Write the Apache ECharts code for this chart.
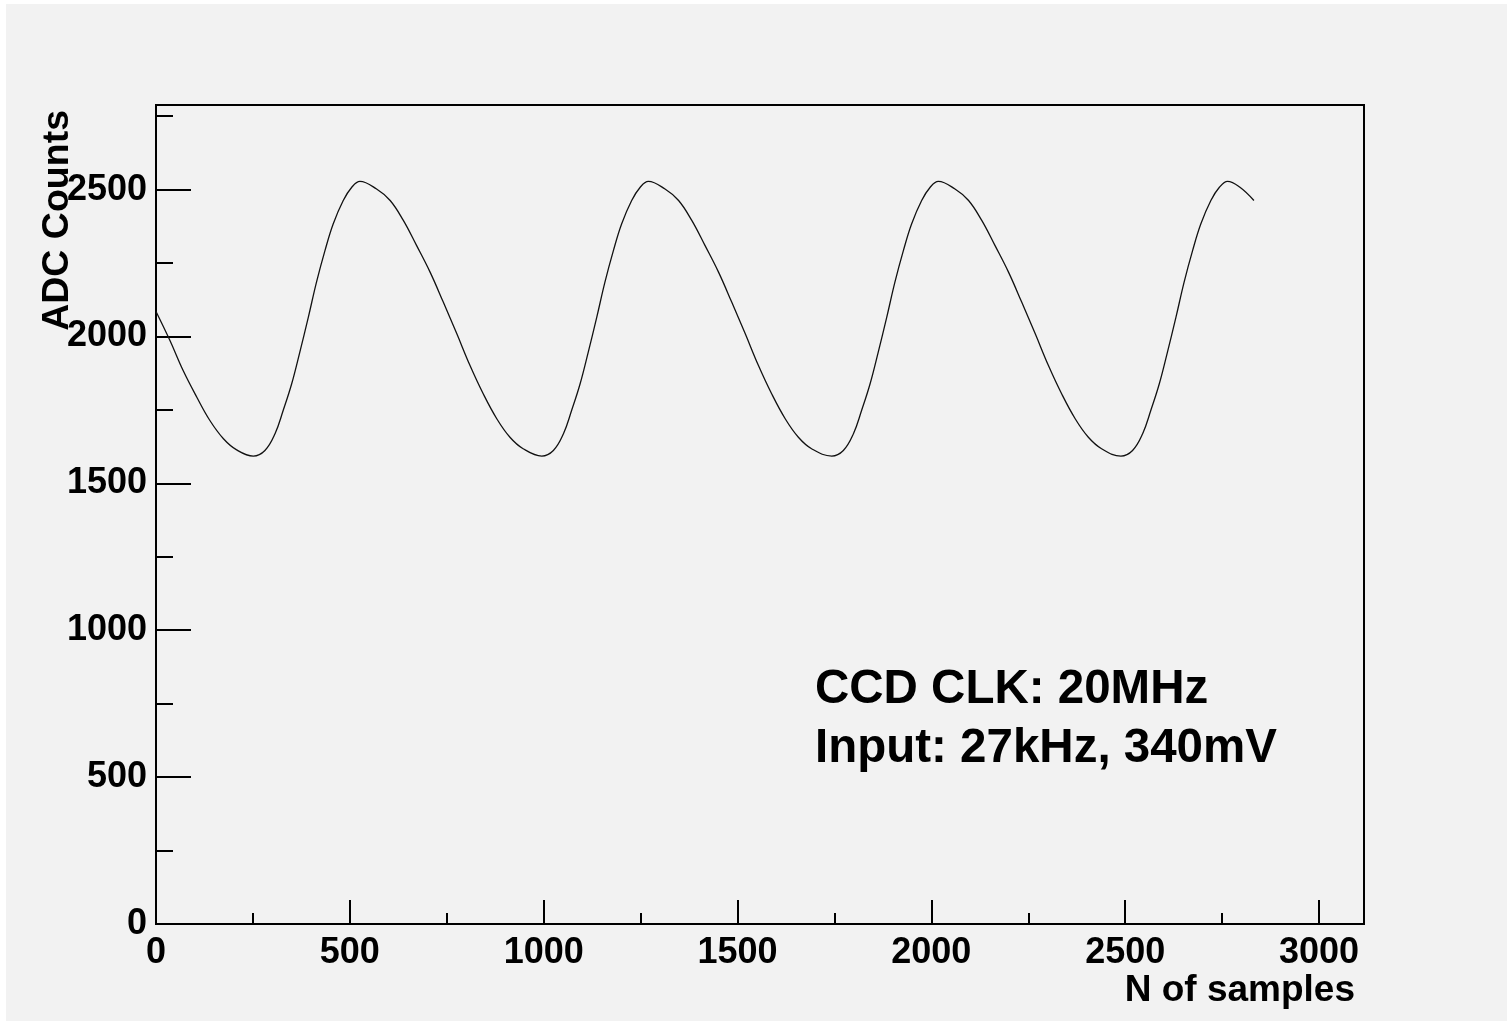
<!DOCTYPE html>
<html>
<head>
<meta charset="utf-8">
<script src="https://cdn.jsdelivr.net/npm/echarts@6/dist/echarts.min.js"></script>
<style>
html,body{margin:0;padding:0;background:#ffffff;}
#chart{position:absolute;left:0;top:0;width:1507px;height:1021px;}
</style>
</head>
<body>
<div id="chart"></div>
<script>
// ---- data ----
const sampleX = [
  0, 36, 70, 105, 139, 174, 208, 251,
  281, 307, 328, 350, 371, 393, 414, 436, 457, 483, 505, 526,
  569, 604, 638, 672, 707, 741, 776, 810, 844, 879, 913, 947, 995,
  1025, 1051, 1072, 1094, 1115, 1137, 1158, 1180, 1201, 1227, 1249, 1270,
  1313, 1348, 1382, 1416, 1451, 1485, 1520, 1554, 1588, 1623, 1657, 1691, 1743,
  1773, 1799, 1820, 1842, 1863, 1885, 1906, 1928, 1949, 1975, 1997, 2018,
  2061, 2096, 2130, 2164, 2199, 2233, 2268, 2302, 2336, 2371, 2405, 2439, 2489,
  2519, 2545, 2566, 2588, 2609, 2631, 2652, 2674, 2695, 2721, 2743, 2764,
  2796, 2832];
const adcY = [
  2085, 1986, 1884, 1794, 1714, 1652, 1614, 1593,
  1612, 1669, 1748, 1839, 1947, 2066, 2185, 2293, 2383, 2463, 2508, 2528,
  2502, 2463, 2395, 2310, 2219, 2117, 2009, 1901, 1805, 1720, 1657, 1618, 1593,
  1612, 1669, 1748, 1839, 1947, 2066, 2185, 2293, 2383, 2463, 2508, 2528,
  2502, 2463, 2395, 2310, 2219, 2117, 2009, 1901, 1805, 1720, 1657, 1618, 1593,
  1612, 1669, 1748, 1839, 1947, 2066, 2185, 2293, 2383, 2463, 2508, 2528,
  2502, 2463, 2395, 2310, 2219, 2117, 2009, 1901, 1805, 1720, 1657, 1618, 1593,
  1612, 1669, 1748, 1839, 1947, 2066, 2185, 2293, 2383, 2463, 2508, 2528,
  2508, 2463];
const xTicks = [0, 500, 1000, 1500, 2000, 2500, 3000];
const yTicks = [0, 500, 1000, 1500, 2000, 2500];
const xTitle = 'N of samples';
const yTitle = 'ADC Counts';
const noteLines = ['CCD CLK: 20MHz', 'Input: 27kHz, 340mV'];

const xMax = 3116, yMax = 2788;
const FONT = 'Liberation Sans, Arial, Helvetica, sans-serif';

const chart = echarts.init(document.getElementById('chart'), null, {renderer: 'canvas'});
const labelStyle = {color: '#000', fontFamily: FONT, fontWeight: 'bold', fontSize: 36};

const option = {
  animation: false,
  backgroundColor: 'transparent',
  grid: {left: 156, top: 105, right: 143, bottom: 97, show: true, borderColor: '#000', borderWidth: 2, backgroundColor: 'transparent'},
  xAxis: [
    {type: 'value', min: 0, max: xMax, interval: 500, position: 'bottom',
     axisLine: {show: true, onZero: false, lineStyle: {color: '#000', width: 2}},
     axisTick: {show: true, inside: true, length: 24, lineStyle: {color: '#000', width: 2}},
     axisLabel: Object.assign({margin: 11, showMaxLabel: false, formatter: v => xTicks.includes(v) ? String(v) : ''}, labelStyle),
     splitLine: {show: false}},
    {type: 'value', min: 0, max: xMax, interval: 250, position: 'bottom',
     axisLine: {show: false},
     axisTick: {show: true, inside: true, length: 11, lineStyle: {color: '#000', width: 2}},
     axisLabel: {show: false}, splitLine: {show: false}}
  ],
  yAxis: [
    {type: 'value', min: 0, max: yMax, interval: 500, position: 'left',
     axisLine: {show: true, onZero: false, lineStyle: {color: '#000', width: 2}},
     axisTick: {show: true, inside: true, length: 35, lineStyle: {color: '#000', width: 2}},
     axisLabel: Object.assign({margin: 9, padding: [6, 0, 0, 0], showMaxLabel: false, formatter: v => yTicks.includes(v) ? String(v) : ''}, labelStyle),
     splitLine: {show: false}},
    {type: 'value', min: 0, max: yMax, interval: 250, position: 'left',
     axisLine: {show: false},
     axisTick: {show: true, inside: true, length: 17, lineStyle: {color: '#000', width: 2}},
     axisLabel: {show: false}, splitLine: {show: false}}
  ],
  series: [{
    type: 'line', xAxisIndex: 0, yAxisIndex: 0,
    data: sampleX.map((x, i) => [x, adcY[i]]),
    showSymbol: false, smooth: 0.4,
    lineStyle: {color: '#111', width: 1.3}
  }],
  graphic: [
    {type: 'rect', left: 6, top: 4, shape: {width: 1501, height: 1017}, style: {fill: '#f2f2f2'}, z: -10, silent: true},
    {type: 'text', x: 1355, y: 991, style: {text: xTitle, font: 'bold 37px ' + FONT, fill: '#000', textAlign: 'right', textVerticalAlign: 'middle'}},
    {type: 'text', x: 58, y: 110, rotation: Math.PI / 2, style: {text: yTitle, font: 'bold 37.5px ' + FONT, fill: '#000', textAlign: 'right', textVerticalAlign: 'middle'}},
    {type: 'text', x: 815, y: 690, style: {text: noteLines[0], font: 'bold 47.5px ' + FONT, fill: '#000', textAlign: 'left', textVerticalAlign: 'middle'}},
    {type: 'text', x: 815, y: 749, style: {text: noteLines[1], font: 'bold 47.5px ' + FONT, fill: '#000', textAlign: 'left', textVerticalAlign: 'middle'}}
  ]
};
chart.setOption(option);
</script>
</body>
</html>
